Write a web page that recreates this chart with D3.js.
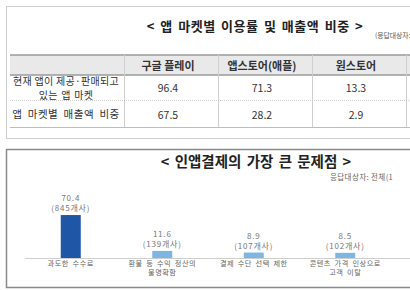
<!DOCTYPE html>
<html><head><meta charset="utf-8">
<script src="https://cdn.jsdelivr.net/npm/d3@7"></script>
<style>
html,body{margin:0;padding:0;background:#fff;overflow:hidden}
svg{display:block;font-family:"Noto Sans CJK KR","Noto Sans",sans-serif}
</style></head><body>
<script>
// ---- table data ----
const tableTitle = "< 앱 마켓별 이용률 및 매출액 비중 >";
const tableNote = "(응답대상자: 전체";
const tableColumns = ["구글 플레이", "앱스토어(애플)", "원스토어"];
const tableRowLabels = [["현재 앱이 제공·판매되고", "있는 앱 마켓"], ["앱 마켓별 매출액 비중"]];
const usageRate = [96.4, 71.3, 13.3];
const revenueShare = [67.5, 28.2, 2.9];

// ---- bar chart data ----
const chartTitle = "< 인앱결제의 가장 큰 문제점 >";
const chartNote = "응답대상자: 전체(1";
const categories = [["과도한 수수료"], ["환불 등 수익 정산의", "불명확함"], ["결제 수단 선택 제한"], ["콘텐츠 가격 인상으로", "고객 이탈"]];
const percents = [70.4, 11.6, 8.9, 8.5];
const companies = [845, 139, 107, 102];

const W = 410, H = 290;
const svg = d3.select("body").append("svg").attr("width", W).attr("height", H);

// ================= TABLE PANEL =================
const topG = svg.append("g");
topG.append("rect").attr("x", 6.5).attr("y", 6.5).attr("width", 420).attr("height", 132)
  .attr("fill", "#fff").attr("stroke", "#cfcfcf");
topG.append("text").attr("x", 255).attr("y", 31).attr("text-anchor", "middle")
  .attr("font-size", 13).attr("font-weight", 700).attr("fill", "#222")
  .attr("letter-spacing", 0.5).attr("word-spacing", 2)
  .text(tableTitle);
topG.append("text").attr("x", 375).attr("y", 38).attr("font-size", 6.8).attr("fill", "#555")
  .text(tableNote);

const colX = d3.scaleBand().domain(tableColumns.concat(["_next"])).range([124, 124 + 94 * 4]).padding(0);
const rowsY = d3.scaleOrdinal().domain(["head", "r0", "r1", "end"]).range([55, 75, 100, 127]);
const tL = 10, tR = 410;

topG.append("rect").attr("x", tL).attr("y", rowsY("head")).attr("width", tR - tL)
  .attr("height", rowsY("r0") - rowsY("head")).attr("fill", "#e9e9e9");
topG.append("line").attr("x1", tL).attr("x2", tR).attr("y1", rowsY("head")).attr("y2", rowsY("head"))
  .attr("stroke", "#9a9a9a").attr("stroke-width", 1.5);
topG.append("line").attr("x1", tL).attr("x2", tR).attr("y1", rowsY("r0")).attr("y2", rowsY("r0"))
  .attr("stroke", "#9a9a9a").attr("stroke-width", 1.5);
topG.append("line").attr("x1", tL).attr("x2", tR).attr("y1", rowsY("r1") + 0.5).attr("y2", rowsY("r1") + 0.5)
  .attr("stroke", "#cfcfcf").attr("stroke-dasharray", "1,1");
topG.append("line").attr("x1", tL).attr("x2", tR).attr("y1", rowsY("end") + 0.5).attr("y2", rowsY("end") + 0.5)
  .attr("stroke", "#bdbdbd");
colX.domain().forEach(c => {
  const xx = Math.round(colX(c)) + 0.5;
  topG.append("line").attr("x1", xx).attr("x2", xx).attr("y1", rowsY("head")).attr("y2", rowsY("end"))
    .attr("stroke", "#cfcfcf");
});
topG.selectAll("text.hd").data(tableColumns).join("text").attr("class", "hd")
  .attr("x", d => colX(d) + colX.bandwidth() / 2 - 3).attr("y", 69.5)
  .attr("text-anchor", "middle").attr("font-size", 11).attr("font-weight", 700).attr("fill", "#333")
  .text(d => d);
const labelCx = 66;
topG.append("text").attr("x", labelCx).attr("y", 85).attr("text-anchor", "middle").attr("font-size", 10)
  .attr("letter-spacing", 0.3).attr("fill", "#333").text(tableRowLabels[0][0]);
topG.append("text").attr("x", labelCx).attr("y", 98.5).attr("text-anchor", "middle").attr("font-size", 10)
  .attr("letter-spacing", 0.3).attr("word-spacing", 1).attr("fill", "#333").text(tableRowLabels[0][1]);
topG.append("text").attr("x", labelCx).attr("y", 118).attr("text-anchor", "middle").attr("font-size", 10.5)
  .attr("fill", "#333").attr("letter-spacing", 0.5).attr("word-spacing", 2.5).text(tableRowLabels[1][0]);
[[usageRate, 92], [revenueShare, 119]].forEach(([vals, yy]) => {
  topG.selectAll(null).data(vals).join("text")
    .attr("x", (d, i) => colX(tableColumns[i]) + colX.bandwidth() / 2 - 3).attr("y", yy)
    .attr("text-anchor", "middle").attr("font-size", 10.5).attr("fill", "#333")
    .text(d => d.toFixed(1));
});

// ================= BAR PANEL =================
const bot = svg.append("g");
bot.append("rect").attr("x", 6.5).attr("y", 149.5).attr("width", 420).attr("height", 138)
  .attr("fill", "#fff").attr("stroke", "#8a8a8a").attr("stroke-width", 1.5);
bot.append("text").attr("x", 256).attr("y", 167).attr("text-anchor", "middle")
  .attr("font-size", 14.5).attr("font-weight", 700).attr("fill", "#222").attr("word-spacing", 2)
  .text(chartTitle);
bot.append("text").attr("x", 330).attr("y", 180).attr("font-size", 7.5).attr("letter-spacing", 0.4)
  .attr("fill", "#666").text(chartNote);

const x = d3.scaleBand().domain(d3.range(categories.length)).range([25, 25 + 91.5 * categories.length]);
const y = d3.scaleLinear().domain([0, 100]).range([258, 197]);
const barW = 20;

bot.append("line").attr("x1", 25).attr("x2", 410).attr("y1", y(0) + 0.5).attr("y2", y(0) + 0.5)
  .attr("stroke", "#cfcfcf");

bot.selectAll("rect.bar").data(percents).join("rect").attr("class", "bar")
  .attr("x", (d, i) => x(i) + x.bandwidth() / 2 - barW / 2)
  .attr("y", d => y(d)).attr("width", barW).attr("height", d => y(0) - y(d))
  .attr("fill", (d, i) => i === 0 ? "#1f56a5" : "#7db6e3");

bot.selectAll("text.val").data(percents).join("text").attr("class", "val")
  .attr("x", (d, i) => x(i) + x.bandwidth() / 2).attr("y", d => y(d) - 14)
  .attr("text-anchor", "middle").attr("font-size", 8).attr("letter-spacing", 0.8).attr("fill", "#777")
  .text(d => d.toFixed(1));
bot.selectAll("text.cnt").data(companies).join("text").attr("class", "cnt")
  .attr("x", (d, i) => x(i) + x.bandwidth() / 2).attr("y", (d, i) => y(percents[i]) - 4)
  .attr("text-anchor", "middle").attr("font-size", 8).attr("letter-spacing", 0.8).attr("fill", "#777")
  .text(d => "(" + d + "개사)");

categories.forEach((lines, i) => {
  lines.forEach((t, j) => {
    bot.append("text").attr("x", x(i) + x.bandwidth() / 2).attr("y", 266 + j * 9)
      .attr("text-anchor", "middle").attr("font-size", 7.2).attr("letter-spacing", 0.5)
      .attr("word-spacing", 1.5).attr("fill", "#666").text(t);
  });
});
</script>
</body></html>
